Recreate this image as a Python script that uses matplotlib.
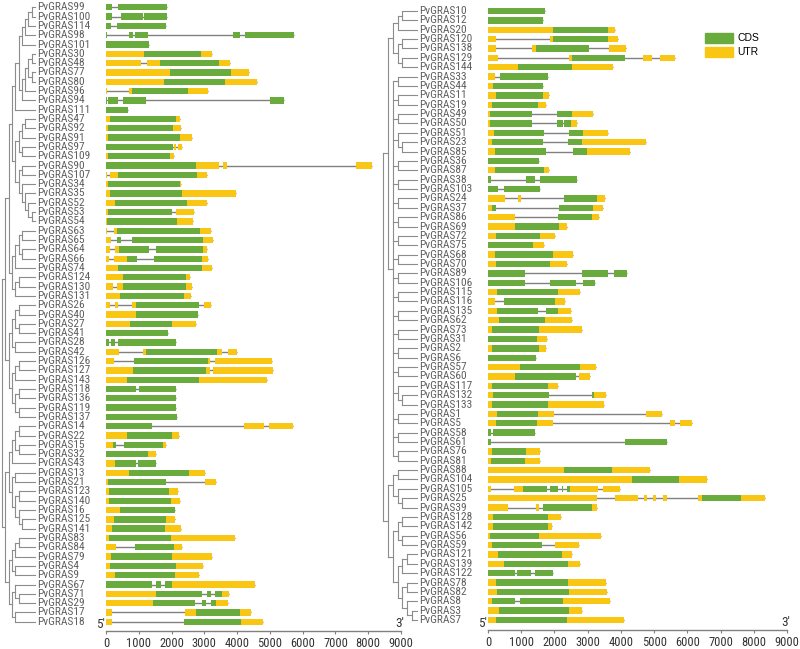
import matplotlib
matplotlib.use('Agg')
import matplotlib.pyplot as plt
from matplotlib import font_manager as fm
from matplotlib.patches import Patch

# ---------------- data ----------------
# gene structures: U = UTR, C = CDS, positions in bp (gaps = introns)
left_genes = ["99", "100", "114", "98", "101", "30", "48", "77", "80", "96", "94", "111",
              "47", "92", "91", "97", "109", "90", "107", "34", "35", "52", "53", "54",
              "63", "65", "64", "66", "74", "124", "130", "131", "26", "40", "27", "41",
              "28", "42", "126", "127", "143", "118", "136", "119", "137", "14", "22", "15",
              "32", "43", "13", "21", "123", "140", "16", "125", "141", "83", "84", "79",
              "4", "9", "67", "71", "29", "17", "18"]
left_structs = [
    "C0-180 C375-1870", "C0-190 C450-1120 C1160-1870", "C0-150 C325-1830",
    "C0-40 C710-830 C880-1290 C3880-4080 C4240-5740", "C0-1320",
    "U0-1170 C1170-2905 U2905-3220", "U0-1070 U1240-1650 C1650-3445 U3445-3780",
    "U0-1950 C1950-3800 U3800-4360", "U0-1760 C1760-3640 U3640-4620",
    "U0-40 U700-780 C780-2510 U2510-3120", "C0-40 C70-360 C510-1220 C5000-5430", "C0-670",
    "U0-120 C120-2150 U2150-2250", "U0-70 C70-2030 U2030-2300", "U0-70 C70-2270 U2270-2630",
    "C0-2030 U2080-2150 U2200-2330", "U0-50 C50-1940 U1940-2070",
    "C0-2740 U2740-3440 U3570-3680 U7630-8120", "U0-40 U120-380 C380-2790 U2790-3090",
    "U0-70 C70-2260 U2260-2300", "U0-120 C120-2310 U2310-3960", "U0-270 C270-2460 U2460-3080",
    "U0-70 C70-2010 U2130-2680", "U0-40 C40-2170 U2170-2650",
    "U0-40 U250-330 C330-2870 U2870-3190", "U0-140 C330-450 C780-2970 U2970-3270",
    "U0-120 U270-410 C410-1320 C1520-2970 U2970-3090",
    "U0-80 U250-650 C650-950 C1470-2920 U2920-3120", "U0-380 C380-2940 U2940-3220",
    "U0-530 C530-2440 U2440-2560", "U0-220 U330-510 C510-2430 U2430-2630",
    "U0-430 C430-2390 U2390-2580", "U0-120 U270-380 U780-930 C930-2840 U2990-3190",
    "U0-930 C930-2820", "U0-730 C730-2000 U2000-2740", "C0-1900", "C0-100 C150-280 C380-2150",
    "U0-400 U1120-1210 C1210-3390 U3390-3530 U3710-4010",
    "U0-240 C860-3120 U3120-3170 U3320-5070", "U0-810 C810-3050 U3050-3170 U3250-5100",
    "U0-630 C630-2840 U2840-4900", "C0-930 C1020-2150", "C0-2130", "C0-2150", "C0-2180",
    "C0-1390 U4220-4830 U4970-5690", "U0-650 C650-2000 U2000-2240",
    "U0-220 C220-300 C560-1730 U1730-1830", "C0-1270 U1270-1520", "U0-270 C270-930 C990-1540",
    "U0-710 C710-2520 U2520-3020", "U0-60 C60-1830 U3020-3350", "U0-90 C90-1930 U1930-2200",
    "U0-80 C80-1970 U1970-2270", "U0-440 C440-2090", "U0-240 C240-1840 U1840-2100",
    "U0-170 C170-1790 U1790-2300", "U0-90 C90-1970 U1970-3950", "U0-300 C880-2070 U2070-2330",
    "U0-150 C150-2020 U2020-3220", "U0-120 C120-2150 U2150-2950", "U0-270 C270-2120 U2120-2830",
    "C0-1390 C1520-1680 C1800-2000 U2000-4540",
    "U0-1540 C1540-2920 C3070-3190 C3330-3530 U3530-3740",
    "U0-1420 C1420-2730 C2920-3050 C3200-3370 U3370-3730",
    "U0-170 U2410-2760 C2760-4100 U4100-4420", "U0-170 C2390-4110 U4110-4800",
]

right_genes = ["10", "12", "20", "120", "138", "129", "144", "33", "44", "11", "19", "49",
               "50", "51", "23", "85", "36", "87", "38", "103", "24", "37", "86", "69",
               "72", "75", "68", "70", "89", "106", "115", "116", "135", "62", "73", "31",
               "2", "6", "57", "60", "117", "132", "133", "1", "5", "58", "61", "76", "81",
               "88", "104", "105", "25", "39", "128", "142", "56", "59", "121", "139", "122",
               "78", "82", "8", "3", "7"]
right_structs = [
    "C0-1720", "C0-1650", "U0-1950 C1950-3600 U3600-3810",
    "U0-230 U1870-1950 C1950-3600 U3600-3920", "U0-230 U1330-1430 C1430-3050 U3650-4150",
    "U0-300 U2450-2530 C2530-4130 U4680-4950 U5180-5620", "U0-900 C900-2520 U2520-3750",
    "U0-220 C350-1820", "U0-150 C150-1650", "U0-250 C250-1670 U1670-1850",
    "U0-120 C120-1500 U1500-1750", "U0-50 C50-1330 C2070-2520 U2520-3170",
    "U0-50 C50-1330 C2070-2250 C2300-2500 U2500-2680", "U0-170 C170-1700 C2430-2870 U2870-3620",
    "U0-120 C120-1670 C2400-2830 U2830-4760", "U0-200 C200-1750 C2550-2980 U2980-4270",
    "C0-1530", "U0-200 C200-1680 U1680-1850", "C0-100 C1130-1400 C1570-2670", "C0-300 C480-1580",
    "U0-500 U900-1000 C2300-3280 U3280-3520", "U0-130 C130-250 C2150-3150 U3150-3450",
    "U0-800 C2100-3120 U3120-3350", "U0-800 C800-2150 U2150-2380", "U0-250 C250-1580 U1580-2020",
    "C0-1350 U1350-1700", "U0-200 C200-1950 U1950-2570", "U0-230 C230-1870 U1870-2380",
    "C0-1100 C2830-3620 C3800-4170", "C0-1110 C1880-2660 C2850-3220",
    "U0-270 C270-2100 U2100-2770", "U0-200 C470-2030 U2030-2320",
    "U0-270 C270-1500 C1750-2120 U2120-2490", "U0-330 C330-1730 U1730-2540",
    "U0-130 C130-1550 U1550-2830", "C0-1470 U1470-1780", "U0-110 C110-1530 U1530-1760",
    "C0-1450", "U0-950 C950-2780 U2780-3250", "U0-810 C810-2650 U2750-3060",
    "U0-130 C130-1800 U1800-2120", "U0-150 C150-1830 C3120-3200 U3200-3550",
    "U0-120 C120-1800 U1800-3480", "U0-270 C270-1500 U1500-2000 U4770-5250",
    "U0-250 C250-1470 U1470-1950 U5470-5630 U5770-6150", "C0-100 C150-1400", "C0-100 C4120-5380",
    "U0-120 C120-1130 U1130-1580", "U0-100 C100-1100 U1100-1580", "U0-2280 C2280-3720 U3720-4880",
    "U0-4340 C4340-5750 U5750-6600",
    "U0-100 U770-1050 C1050-1770 C1870-2100 C2230-2260 C2380-2480 U2480-3320 U3470-3970",
    "U0-3280 U3830-4520 U4700-4800 U4970-5070 U5280-5380 U6330-6450 C6450-7630 U7630-8330",
    "U0-600 U1430-1550 C1670-3130 U3130-3280", "U0-150 C150-1820 U1820-2190",
    "U0-150 C150-1800 U1800-1930", "U0-70 C70-1550 U1550-3390", "U0-120 C120-1620 U2020-2730",
    "U0-300 C300-2230 U2230-2520", "U0-470 C470-2400 U2400-2760", "C0-800 C880-1300 C1400-1950",
    "U0-250 C250-2420 U2420-3550", "U0-270 C270-2430 U2430-3590",
    "U0-130 C130-820 C950-2250 U2250-3670", "U0-330 C330-2430 U2430-2820",
    "U0-250 C250-2380 U2380-4080",
]

# approximate tree topologies (newick, leaf = gene number)
left_tree = ("((((((((((99,100),114),98),101),((((30,48),(77,80)),96),94)),111),"
             "((((47,92),91),(97,109)),((90,107),(34,(35,(52,(53,54))))))),"
             "((((63,65),(64,66)),74),((124,130),131))),"
             "((((26,40),(27,41)),(28,42)),(((126,127),143),((118,136),(119,137))))),"
             "(((((14,22),(15,32)),43),((13,21),((123,140),(16,(125,141))))),"
             "((((83,84),79),(4,9)),((67,(71,29)),(17,18)))))")
right_tree = ("(((((10,12),20),((120,138),(129,144))),"
              "((33,44),(11,19),(49,50),(51,(23,85)),(36,87),(38,103),(24,37),(86,69),(72,75),"
              "(68,70),(89,106),(115,116),(135,62),(73,31),(2,6),(57,60),(117,(132,133)),(1,5),"
              "(58,61),(76,81))),"
              "(((88,104),(105,(25,39))),(((128,142),(56,59)),(((121,139),122),((78,82),(8,(3,7)))))))")

ticks = list(range(0, 9001, 1000))

CDS = '#6aab3d'
UTR = '#f9c713'
LINE = '#808080'

# pick a narrow font for the gene names / tick labels if one is installed
names = {f.name for f in fm.fontManager.ttflist}
if 'Liberation Sans Narrow' in names:
    NARROW = dict(family='Liberation Sans Narrow')
    LBL_SIZE, TICK_SIZE = 7.8, 9.2
elif 'Roboto Condensed' in names:
    NARROW = dict(family='Roboto Condensed')
    LBL_SIZE, TICK_SIZE = 8.2, 9.0
elif 'DejaVu Sans Condensed' in names:
    NARROW = dict(family='DejaVu Sans Condensed')
    LBL_SIZE, TICK_SIZE = 7.4, 8.2
else:
    NARROW = dict(family='Liberation Sans')
    LBL_SIZE, TICK_SIZE = 7.1, 8

plt.rcParams['font.family'] = ['Liberation Sans', 'DejaVu Sans']


def parse_newick(s, i=0):
    if s[i] == '(':
        kids = []
        i += 1
        while True:
            node, i = parse_newick(s, i)
            kids.append(node)
            if s[i] == ',':
                i += 1
            else:
                i += 1
                break
        return kids, i
    j = i
    while j < len(s) and s[j] not in ',)':
        j += 1
    return s[i:j], j


def max_depth(node, d=0):
    if isinstance(node, str):
        return d
    return max(max_depth(k, d + 1) for k in node)


def draw_tree(ax, node, rows, depth, x0, step, leaf_x):
    if isinstance(node, str):
        return leaf_x, rows[node]
    x = x0 + depth * step
    pts = [draw_tree(ax, k, rows, depth + 1, x0, step, leaf_x) for k in node]
    ys = [p[1] for p in pts]
    ax.plot([x, x], [min(ys), max(ys)], color='#8c8c8c', lw=0.8)
    for cx, cy in pts:
        ax.plot([x, cx], [cy, cy], color='#8c8c8c', lw=0.8)
    return x, (min(ys) + max(ys)) / 2


def parse_struct(s):
    segs = []
    for tok in s.split():
        a, b = tok[1:].split('-')
        segs.append((tok[0], float(a), float(b)))
    return segs


W, H = 800, 649
fig = plt.figure(figsize=(W / 100, H / 100), dpi=100)


def panel(genes, structs, tree, ax_px, tree_px, label_x, row0, dy, axis_y):
    # ax_px: pixel x of 0 bp and 9000 bp
    ylim = ((axis_y - row0) / dy, -row0 / dy)
    bottom = (H - axis_y) / H
    height = axis_y / H

    ax = fig.add_axes([ax_px[0] / W, bottom, (ax_px[1] - ax_px[0]) / W, height])
    ax.set_xlim(0, 9000)
    ax.set_ylim(*ylim)
    for i, s in enumerate(structs):
        segs = parse_struct(s)
        ax.hlines(i, segs[0][1], segs[-1][2], color=LINE, lw=1, zorder=1)
        for kind, a, b in segs:
            ax.barh(i, b - a, left=a, height=0.68, color=CDS if kind == 'C' else UTR,
                    linewidth=0, zorder=2)
    for sp in ['top', 'right', 'left']:
        ax.spines[sp].set_visible(False)
    ax.spines['bottom'].set_color(LINE)
    ax.spines['bottom'].set_linewidth(1)
    ax.set_yticks([])
    ax.set_xticks(ticks)
    ax.set_xticklabels([str(t) for t in ticks], fontsize=TICK_SIZE, color='#333333', **NARROW)
    ax.tick_params(axis='x', length=2, width=0.8, color=LINE, pad=2)
    ax.text(-40, ylim[0], "5'", ha='right', va='bottom', fontsize=9.5, color='#333333', **NARROW)
    ax.text(8950, ylim[0] - 0.15, "3'", ha='center', va='bottom', fontsize=9.5, color='#333333',
            **NARROW)

    # tree + gene names
    tx = fig.add_axes([tree_px[0] / W, bottom, (tree_px[1] - tree_px[0]) / W, height])
    tx.set_xlim(*tree_px)
    tx.set_ylim(*ylim)
    tx.axis('off')
    rows = {g: i for i, g in enumerate(genes)}
    root, _ = parse_newick(tree)
    md = max_depth(root)
    step = (label_x - 2 - tree_px[0] - 2) / md
    draw_tree(tx, root, rows, 0, tree_px[0] + 2, step, label_x - 2)
    for i, g in enumerate(genes):
        tx.text(label_x, i, 'PvGRAS' + g, ha='left', va='center', fontsize=LBL_SIZE,
                color='#5e5e5e', **NARROW)
    return ax


panel(left_genes, left_structs, left_tree, (106, 401), (0, 106), 37, 7.3, 9.31, 631)
panel(right_genes, right_structs, right_tree, (488, 787), (381, 488), 419, 11, 9.37, 630)

fig.legend(handles=[Patch(color=CDS, label='CDS'), Patch(color=UTR, label='UTR')],
           loc='upper left', bbox_to_anchor=(705 / W, 1 - 33 / H), frameon=False,
           fontsize=7.5, handlelength=2.7, handleheight=1.05, handletextpad=0.4,
           labelspacing=0.35, borderpad=0, borderaxespad=0)

fig.savefig('out.png', dpi=100, facecolor='white')
